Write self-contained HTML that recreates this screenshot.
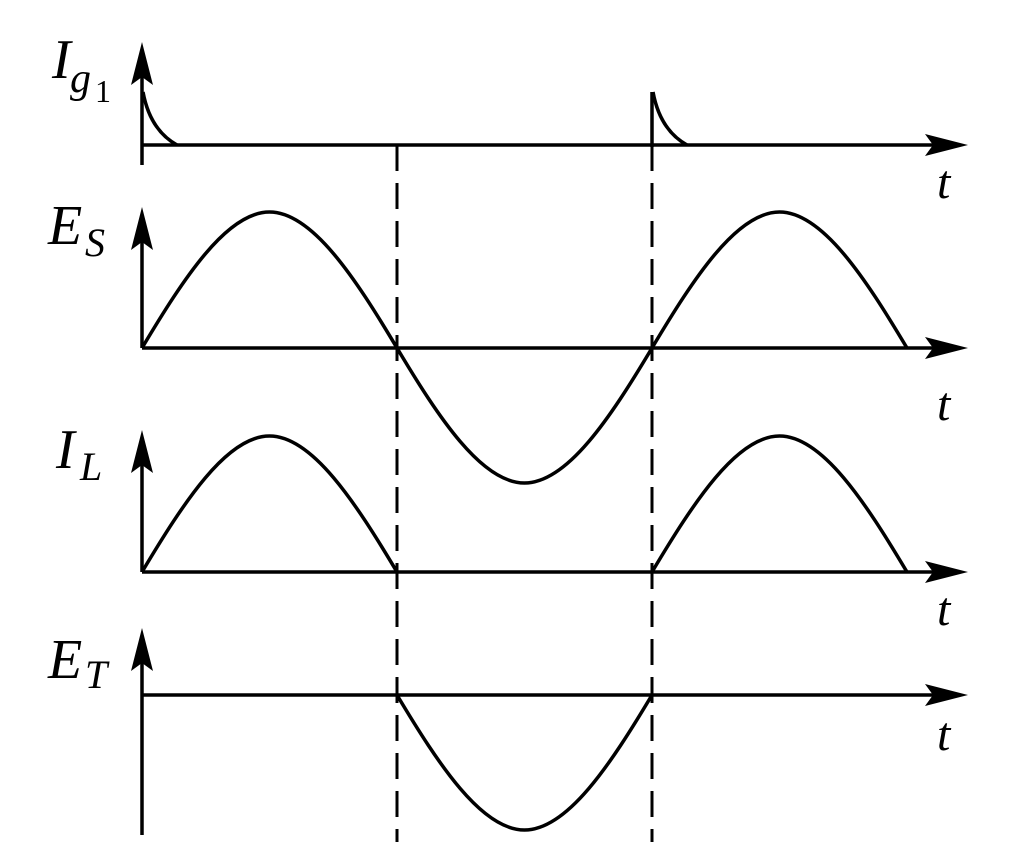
<!DOCTYPE html>
<html><head><meta charset="utf-8"><style>
html,body{margin:0;padding:0;background:#fff;}
svg{display:block;}
text{font-family:"Liberation Serif",serif;font-style:italic;fill:#000;}
</style></head><body>
<svg width="1024" height="865" viewBox="0 0 1024 865" xmlns="http://www.w3.org/2000/svg">
<defs>
<path id="ah" d="M0,0 L-11,43 L0,35 L11,43 Z"/>
<path id="ahh" d="M0,0 L-43,-11 L-35,0 L-43,11 Z"/>
</defs>
<g stroke="#000" stroke-width="3.5" fill="none">
<line x1="142" y1="60" x2="142" y2="165"/>
<line x1="142" y1="225" x2="142" y2="348"/>
<line x1="142" y1="448" x2="142" y2="572"/>
<line x1="142" y1="646" x2="142" y2="835"/>
<line x1="142" y1="145" x2="940" y2="145"/>
<line x1="142" y1="348" x2="940" y2="348"/>
<line x1="142" y1="572" x2="940" y2="572"/>
<line x1="142" y1="695" x2="940" y2="695"/>
<line x1="397" y1="145" x2="397" y2="842" stroke-width="3" stroke-dasharray="26,12"/>
<line x1="652" y1="145" x2="652" y2="842" stroke-width="3" stroke-dasharray="26,12"/>
<line x1="652" y1="92" x2="652" y2="147"/>
<path d="M143,92 Q150,130 177,145"/>
<path d="M653,92 Q660,130 687,145"/>
<path d="M142,348 C183.6,278.3 226.7,212 269.5,212 C312.3,212 355.4,278.3 397,348
C438.6,417.7 481.7,483 524.5,483 C567.3,483 610.4,417.7 652,348
C693.6,278.3 736.7,212 779.5,212 C822.3,212 865.4,278.3 907,348"/>
<path d="M142,572 C183.6,502.3 226.7,436 269.5,436 C312.3,436 355.4,502.3 397,572"/>
<path d="M652,572 C693.6,502.3 736.7,436 779.5,436 C822.3,436 865.4,502.3 907,572"/>
<path d="M397,695 C438.6,764.7 481.7,830 524.5,830 C567.3,830 610.4,764.7 652,695"/>
</g>
<g fill="#000">
<use href="#ah" x="142" y="42"/>
<use href="#ah" x="142" y="207"/>
<use href="#ah" x="142" y="430"/>
<use href="#ah" x="142" y="628"/>
<use href="#ahh" x="968" y="145"/>
<use href="#ahh" x="968" y="348"/>
<use href="#ahh" x="968" y="572"/>
<use href="#ahh" x="968" y="695"/>
</g>
<text x="52" y="78" font-size="56">I</text><text x="70" y="92" font-size="42">g</text><text x="95" y="102" font-size="32" style="font-style:normal">1</text>
<text x="48" y="244" font-size="56">E</text><text x="85" y="256" font-size="40">S</text>
<text x="56" y="468" font-size="56">I</text><text x="80" y="480" font-size="40">L</text>
<text x="48" y="678" font-size="56">E</text><text x="85" y="688" font-size="40">T</text>
<text x="937" y="198" font-size="48">t</text>
<text x="937" y="420" font-size="48">t</text>
<text x="937" y="625" font-size="48">t</text>
<text x="937" y="750" font-size="48">t</text>
</svg>
</body></html>
